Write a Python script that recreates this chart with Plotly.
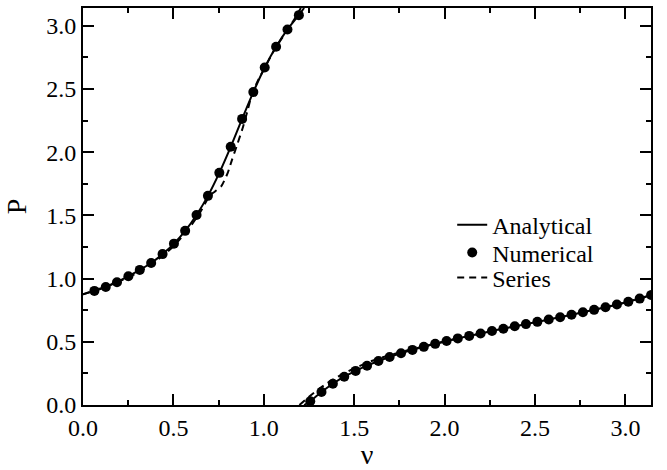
import plotly.graph_objects as go

# ---- Numerical (markers) ----
num_nu_upper = [0.063, 0.126, 0.188, 0.251, 0.314, 0.377, 0.440, 0.503, 0.565, 0.628,
                0.691, 0.754, 0.817, 0.880, 0.942, 1.005, 1.068, 1.131, 1.194]
num_p_upper = [0.903, 0.934, 0.972, 1.019, 1.069, 1.124, 1.194, 1.277, 1.378, 1.504,
               1.655, 1.837, 2.043, 2.264, 2.476, 2.671, 2.835, 2.972, 3.085]
num_nu_lower = [1.257, 1.319, 1.382, 1.445, 1.508, 1.571, 1.634, 1.696, 1.759, 1.822,
                1.885, 1.948, 2.011, 2.073, 2.136, 2.199, 2.262, 2.325, 2.388, 2.450,
                2.513, 2.576, 2.639, 2.702, 2.765, 2.827, 2.890, 2.953, 3.016, 3.079, 3.142]
num_p_lower = [0.030, 0.103, 0.168, 0.224, 0.270, 0.311, 0.348, 0.380, 0.409, 0.436,
               0.460, 0.484, 0.506, 0.527, 0.547, 0.566, 0.586, 0.604, 0.623, 0.640,
               0.658, 0.677, 0.695, 0.714, 0.734, 0.753, 0.773, 0.795, 0.817, 0.842, 0.870]

# ---- Analytical (solid line) ----
ana_nu_upper = [0.0] + num_nu_upper + [1.223]
ana_p_upper = [0.876] + num_p_upper + [3.1416]
ana_nu_lower = [1.223] + num_nu_lower
ana_p_lower = [0.0] + num_p_lower

# ---- Series (dashed line) ----
ser_nu_upper = [0.0, 0.1, 0.2, 0.3, 0.4, 0.5, 0.6, 0.65, 0.70, 0.73, 0.764, 0.80, 0.824,
                0.855, 0.885, 0.91, 0.935, 0.97, 1.01, 1.05, 1.09, 1.13, 1.17, 1.205]
ser_p_upper = [0.876, 0.925, 0.978, 1.045, 1.135, 1.255, 1.425, 1.53, 1.655, 1.69, 1.73, 1.835,
               1.94, 2.07, 2.20, 2.33, 2.46, 2.575, 2.68, 2.79, 2.88, 2.965, 3.055, 3.1416]
ser_nu_lower = [1.197, 1.25, 1.30, 1.35, 1.40, 1.45, 1.50, 1.60, 1.70, 1.80, 1.90, 2.00,
                2.20, 2.50, 2.80, 3.00, 3.142]
ser_p_lower = [0.0, 0.065, 0.122, 0.172, 0.216, 0.255, 0.290, 0.350, 0.396, 0.435, 0.469,
               0.503, 0.566, 0.655, 0.745, 0.812, 0.870]

FONT = "Liberation Serif, Times New Roman, Times, serif"

fig = go.Figure()
fig.add_trace(go.Scatter(
    x=ana_nu_upper + [None] + ana_nu_lower,
    y=ana_p_upper + [None] + ana_p_lower,
    mode="lines", name="Analytical",
    line=dict(color="black", width=2, shape="spline", smoothing=0.6),
    legend="legend"))
fig.add_trace(go.Scatter(
    x=num_nu_upper + [None] + num_nu_lower,
    y=num_p_upper + [None] + num_p_lower,
    mode="markers", name="Numerical",
    marker=dict(color="black", size=10),
    legend="legend2"))
fig.add_trace(go.Scatter(
    x=ser_nu_upper + [None] + ser_nu_lower,
    y=ser_p_upper + [None] + ser_p_lower,
    mode="lines", name="Series",
    line=dict(color="black", width=2, dash="7px,5px", shape="spline", smoothing=0.6),
    legend="legend3"))

axis_common = dict(
    range=[0, 3.1416], dtick=0.5, tick0=0, tickformat=".1f",
    showline=True, linecolor="black", linewidth=2, mirror="ticks",
    ticks="inside", ticklen=11, tickwidth=2, tickcolor="black",
    minor=dict(dtick=0.25, ticks="inside", ticklen=5, tickwidth=2, tickcolor="black"),
    showgrid=False, zeroline=False,
    tickfont=dict(family=FONT, size=24, color="black"),
)

fig.update_xaxes(**axis_common, title=dict(text="ν", font=dict(family=FONT, size=28, color="black"), standoff=0))
fig.update_yaxes(**axis_common, title=dict(text="P", font=dict(family=FONT, size=28, color="black"), standoff=11))

leg_common = dict(font=dict(family=FONT, size=24, color="black"), bgcolor="rgba(0,0,0,0)",
                  borderwidth=0, xanchor="left", yanchor="middle", x=0.650)
fig.update_layout(
    template="none",
    font=dict(family=FONT, size=24, color="black"),
    width=667, height=470,
    margin=dict(l=83, r=16, t=8, b=65),
    paper_bgcolor="white", plot_bgcolor="white",
    showlegend=True,
    legend=dict(**leg_common, y=0.453),
    legend2=dict(**leg_common, y=0.383),
    legend3=dict(**leg_common, y=0.320),
)

fig.write_html("out.html")
